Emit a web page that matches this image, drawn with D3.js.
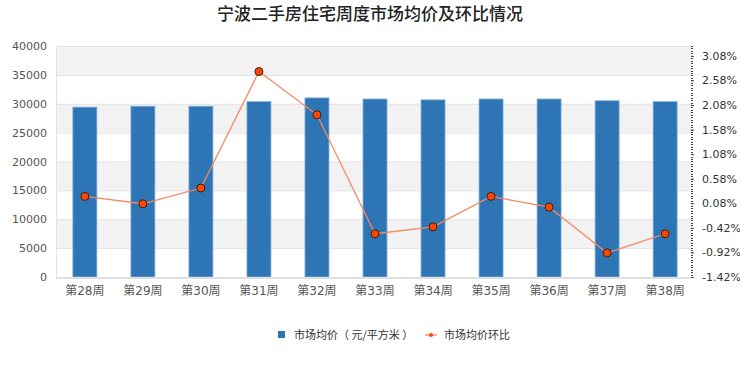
<!DOCTYPE html>
<html>
<head>
<meta charset="utf-8">
<script src="https://cdn.jsdelivr.net/npm/d3@7"></script>
<style>
  body { margin: 0; background: #fff; }
  svg { font-family: "DejaVu Sans", "Noto Sans CJK SC", sans-serif; }
</style>
</head>
<body>
<div id="chart"></div>
<script>
const weeks = ["第28周","第29周","第30周","第31周","第32周","第33周","第34周","第35周","第36周","第37周","第38周"];
const avgPrice = [29420, 29580, 29580, 30380, 31020, 30830, 30680, 30830, 30830, 30530, 30380];
const momPct = [0.22, 0.07, 0.39, 2.76, 1.88, -0.54, -0.40, 0.22, 0.00, -0.93, -0.54];
const leftTicks = [0, 5000, 10000, 15000, 20000, 25000, 30000, 35000, 40000];
const rightTicks = [-1.42, -0.92, -0.42, 0.08, 0.58, 1.08, 1.58, 2.08, 2.58, 3.08];

const W = 740, H = 370;
const plot = {left: 56, right: 692, top: 46, bottom: 277};
const axisFont = '"DejaVu Sans", "Noto Sans CJK SC", sans-serif';

const svg = d3.select("#chart").append("svg")
  .attr("width", W).attr("height", H);

const x = d3.scaleBand()
  .domain(weeks)
  .range([plot.left, plot.right + 2])
  .paddingInner(0.585)
  .paddingOuter(0.29);

const y = d3.scaleLinear().domain([0, 40000]).range([plot.bottom, plot.top]);
const y2 = d3.scaleLinear().domain([-1.42, 3.28]).range([plot.bottom, plot.top]);

// alternating background bands
svg.append("g").selectAll("rect")
  .data(d3.range(leftTicks.length - 1))
  .enter().append("rect")
    .attr("x", plot.left)
    .attr("width", plot.right - plot.left)
    .attr("y", i => y(leftTicks[i + 1]))
    .attr("height", i => y(leftTicks[i]) - y(leftTicks[i + 1]))
    .attr("fill", i => i % 2 === 1 ? "#f2f2f2" : "#ffffff");

// grid lines
svg.append("g").selectAll("line")
  .data(leftTicks.slice(1))
  .enter().append("line")
    .attr("x1", plot.left).attr("x2", plot.right)
    .attr("y1", d => y(d) + 0.5).attr("y2", d => y(d) + 0.5)
    .attr("stroke", "#e3e3e3");

// left border of plot
svg.append("line")
  .attr("x1", plot.left + 0.5).attr("x2", plot.left + 0.5)
  .attr("y1", plot.top).attr("y2", plot.bottom)
  .attr("stroke", "#e3e3e3");

// left axis
const leftAxis = svg.append("g")
  .attr("transform", "translate(" + (plot.left - 7) + ",0)")
  .call(d3.axisLeft(y).tickValues(leftTicks).tickSize(0).tickPadding(2).tickFormat(d3.format("d")));
leftAxis.select(".domain").remove();
leftAxis.attr("font-family", axisFont).attr("font-size", 11);
leftAxis.selectAll("text").attr("fill", "#555");

// bars
svg.append("g").selectAll(".bar")
  .data(avgPrice)
  .enter().append("rect")
    .attr("class", "bar")
    .attr("x", (d, i) => x(weeks[i]))
    .attr("width", x.bandwidth())
    .attr("y", d => y(d))
    .attr("height", d => plot.bottom - y(d))
    .attr("fill", "#2e75b6")
    .attr("stroke", "#8fb8e0")
    .attr("stroke-width", 0.8);

// bottom axis line
svg.append("line")
  .attr("x1", plot.left).attr("x2", plot.right)
  .attr("y1", plot.bottom + 1).attr("y2", plot.bottom + 1)
  .attr("stroke", "#e0e0e0").attr("stroke-width", 2);

// category labels
const bottomAxis = svg.append("g")
  .attr("transform", "translate(0," + (plot.bottom + 8) + ")")
  .call(d3.axisBottom(x).tickSize(0).tickPadding(1));
bottomAxis.select(".domain").remove();
bottomAxis.attr("font-family", axisFont).attr("font-size", 12);
bottomAxis.selectAll("text").attr("fill", "#555");

// right axis with minor ticks
const minorTicks = d3.range(0, 95).map(i => -1.42 + i * 0.05);
svg.append("g").selectAll("line")
  .data(minorTicks)
  .enter().append("line")
    .attr("x1", plot.right - 1).attr("x2", plot.right + 1)
    .attr("y1", d => Math.round(y2(d)) + 0.5).attr("y2", d => Math.round(y2(d)) + 0.5)
    .attr("stroke", "#444");
const rightAxis = svg.append("g")
  .attr("transform", "translate(" + (plot.right + 1) + ",0)")
  .call(d3.axisRight(y2).tickValues(rightTicks).tickSize(3).tickPadding(6).tickFormat(d => d.toFixed(2) + "%"));
rightAxis.select(".domain").remove();
rightAxis.attr("font-family", axisFont).attr("font-size", 11);
rightAxis.selectAll("line").attr("stroke", "#444").attr("transform", "translate(-2,0)");
rightAxis.selectAll("text").attr("fill", "#333");

// line series
const cx = (d, i) => x(weeks[i]) + x.bandwidth() / 2;
svg.append("path")
  .datum(momPct)
  .attr("fill", "none")
  .attr("stroke", "#f7885f")
  .attr("stroke-width", 1.3)
  .attr("d", d3.line().x(cx).y(d => y2(d)));

svg.append("g").selectAll("circle")
  .data(momPct)
  .enter().append("circle")
    .attr("cx", cx)
    .attr("cy", d => y2(d))
    .attr("r", 4)
    .attr("fill", "#ff4500")
    .attr("stroke", "#3a2010")
    .attr("stroke-width", 1);

// title
svg.append("text")
  .attr("x", 370).attr("y", 20)
  .attr("text-anchor", "middle")
  .style("font-size", "17px")
  .style("font-weight", "500")
  .style("font-family", "'Noto Sans CJK SC', sans-serif")
  .attr("fill", "#222")
  .text("宁波二手房住宅周度市场均价及环比情况");

// legend
const legend = svg.append("g").style("font-family", "'Noto Sans CJK SC', sans-serif");
legend.append("rect")
  .attr("x", 278).attr("y", 331).attr("width", 7).attr("height", 7)
  .attr("fill", "#2e75b6");
legend.append("text")
  .attr("x", 294).attr("y", 339)
  .style("font-size", "11px").attr("fill", "#333")
  .text("市场均价（ 元/平方米 ）");
legend.append("line")
  .attr("x1", 425).attr("x2", 437).attr("y1", 335).attr("y2", 335)
  .attr("stroke", "#f7885f").attr("stroke-width", 1.3);
legend.append("circle")
  .attr("cx", 431).attr("cy", 335).attr("r", 2)
  .attr("fill", "#ff4500");
legend.append("text")
  .attr("x", 444).attr("y", 339)
  .style("font-size", "11px").attr("fill", "#333")
  .text("市场均价环比");
</script>
</body>
</html>
